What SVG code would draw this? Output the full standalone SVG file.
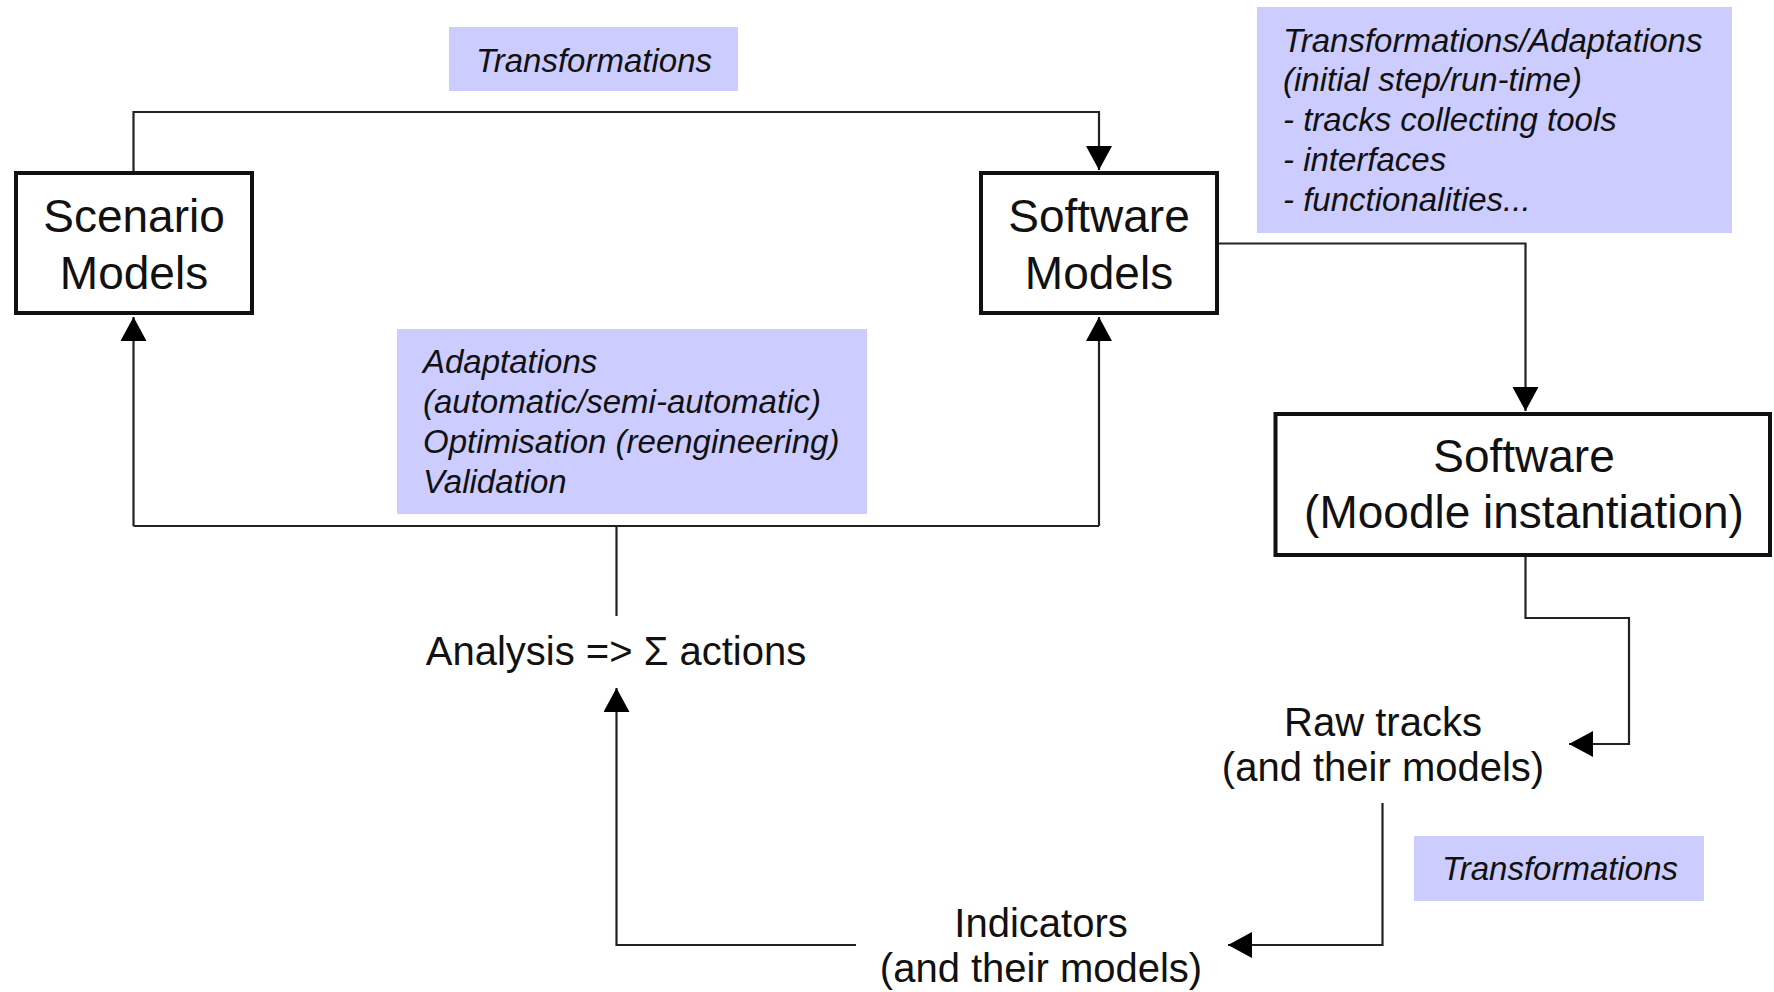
<svg xmlns="http://www.w3.org/2000/svg" width="1774" height="992" viewBox="0 0 1774 992">
<style>
.node rect{fill:#fff;stroke:#111;stroke-width:4}
.node text{font-family:"Liberation Sans",Arial,sans-serif;font-size:46px;fill:#111;text-anchor:middle}
.lbl rect{fill:#ccccff;stroke:none}
.lbl text{font-family:"Liberation Sans",Arial,sans-serif;font-size:33px;font-style:italic;fill:#111}
.free text{font-family:"Liberation Sans",Arial,sans-serif;font-size:40px;fill:#111;text-anchor:middle}
.conn path{fill:none;stroke:#222;stroke-width:2.2}
</style>
<defs>
<marker id="arr" viewBox="0 0 24 26" refX="24" refY="13" markerWidth="24" markerHeight="26" markerUnits="userSpaceOnUse" orient="auto">
<path d="M0,0 L24,13 L0,26 Z" fill="#000"/>
</marker>
</defs>
<rect width="1774" height="992" fill="#fff"/>

<g id="label-transformations-top" class="lbl">
<rect x="449" y="27" width="289" height="64"/>
<text x="594" y="71.5" text-anchor="middle">Transformations</text>
</g>
<g id="label-transformations-adaptations" class="lbl">
<rect x="1257" y="7" width="475" height="226"/>
<text x="1283" y="51.5">Transformations/Adaptations</text>
<text x="1283" y="91">(initial step/run-time)</text>
<text x="1283" y="130.5">- tracks collecting tools</text>
<text x="1283" y="170.5">- interfaces</text>
<text x="1283" y="210.5">- functionalities...</text>
</g>
<g id="label-adaptations" class="lbl">
<rect x="397" y="329" width="470" height="185"/>
<text x="423" y="372.5">Adaptations</text>
<text x="423" y="412.5">(automatic/semi-automatic)</text>
<text x="423" y="452.5">Optimisation (reengineering)</text>
<text x="423" y="492.5">Validation</text>
</g>
<g id="label-transformations-bottom" class="lbl">
<rect x="1414" y="836" width="290" height="65"/>
<text x="1560" y="880" text-anchor="middle">Transformations</text>
</g>

<g id="connectors" class="conn">
<path d="M133.5,171 V112 H1099 V170" marker-end="url(#arr)"/>
<path d="M133.5,526 H1099"/>
<path d="M133.5,526 V317" marker-end="url(#arr)"/>
<path d="M1099,526 V317" marker-end="url(#arr)"/>
<path d="M616.5,616 V526"/>
<path d="M856,945 H616.5 V688" marker-end="url(#arr)"/>
<path d="M1219,243.5 H1525.5 V411" marker-end="url(#arr)"/>
<path d="M1525.5,557 V618 H1629 V744 H1569" marker-end="url(#arr)"/>
<path d="M1382.5,803 V945 H1228" marker-end="url(#arr)"/>
</g>

<g id="node-scenario-models" class="node">
<rect x="16" y="173" width="236" height="140"/>
<text x="134" y="232">Scenario</text>
<text x="134" y="288.5">Models</text>
</g>
<g id="node-software-models" class="node">
<rect x="981" y="173" width="236" height="140"/>
<text x="1099" y="232">Software</text>
<text x="1099" y="288.5">Models</text>
</g>
<g id="node-software-moodle" class="node">
<rect x="1275.5" y="414" width="494.5" height="141"/>
<text x="1524" y="472">Software</text>
<text x="1524" y="528">(Moodle instantiation)</text>
</g>

<g id="node-analysis" class="free">
<text x="616" y="665">Analysis =&gt; Σ actions</text>
</g>
<g id="node-raw-tracks" class="free">
<text x="1383" y="736">Raw tracks</text>
<text x="1383" y="781">(and their models)</text>
</g>
<g id="node-indicators" class="free">
<text x="1041" y="937">Indicators</text>
<text x="1041" y="982">(and their models)</text>
</g>
</svg>
